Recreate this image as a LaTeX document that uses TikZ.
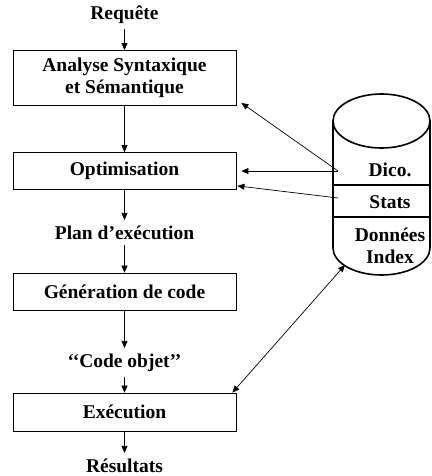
\documentclass[tikz,border=0pt]{standalone}
\usepackage{fontspec}
\setmainfont{Liberation Serif}
\usetikzlibrary{arrows.meta}
\begin{document}
\begin{tikzpicture}[x=1pt,y=-1pt,
  lbl/.style={font=\bfseries\fontsize{19.5}{22}\selectfont, inner sep=0pt, align=center},
  box/.style={draw, line width=0.8pt, minimum width=223pt, inner sep=0pt, font=\bfseries\fontsize{19.5}{22}\selectfont, align=center},
  arr/.style={-{Triangle[length=7pt,width=6pt]}, line width=0.7pt},
  cyl/.style={line width=1.6pt}]
\useasboundingbox (0,0) rectangle (431,476);
% left column
\node[lbl] (req) at (124.5,15) {Requête};
\node[box, minimum height=55pt] (ana) at (124.5,78) {Analyse Syntaxique\\et Sémantique};
\node[box, minimum height=37pt] (opt) at (124.5,171) {Optimisation};
\node[lbl] (plan) at (124.5,233) {Plan d’exécution};
\node[box, minimum height=37pt] (gen) at (124.5,291.5) {Génération de code};
\node[lbl] (code) at (124.5,363) {‘‘Code objet’’};
\node[box, minimum height=38pt] (exe) at (124.5,412) {Exécution};
\node[lbl] (res) at (124.5,466) {Résultats};
\draw[arr] ([yshift=-5pt]req.south) -- (ana.north);
\draw[arr] (ana.south) -- (opt.north);
\draw[arr] (opt.south) -- ([yshift=6pt]plan.north);
\draw[arr] ([yshift=-5pt]plan.south) -- (gen.north);
\draw[arr] (gen.south) -- ([yshift=6pt]code.north);
\draw[arr] ([yshift=-5pt]code.south) -- (exe.north);
\draw[arr] (exe.south) -- ([yshift=6pt]res.north);
% cylinder
\draw[cyl] (333,121) -- (333,248) arc[start angle=180,end angle=360,x radius=48.5pt,y radius=27pt] -- (430,121);
\draw[cyl] (381.5,121) ellipse[x radius=48.5pt,y radius=27pt];
\draw[cyl] (333,185) -- (430,185);
\draw[cyl] (333,217) -- (430,217);
\node[lbl] (dico) at (390,170) {Dico.};
\node[lbl] (stats) at (390,202) {Stats};
\node[lbl] (donn) at (390,246) {Données\\Index};
\coordinate (dpt) at (338,171);
\coordinate (spt) at (338,198);
\coordinate (ipt) at (345,265);
\draw[arr] (dpt) -- ([shift={(5pt,3pt)}]ana.south east);
\draw[arr] (dpt) -- ([xshift=5pt]opt.east);
\draw[arr] (spt) -- ([shift={(1pt,4pt)}]opt.south east);
\draw[{Triangle[length=7pt,width=6pt]}-{Triangle[length=7pt,width=6pt]}, line width=0.7pt] ([xshift=-4pt]exe.north east) -- (ipt);
\end{tikzpicture}
\end{document}
